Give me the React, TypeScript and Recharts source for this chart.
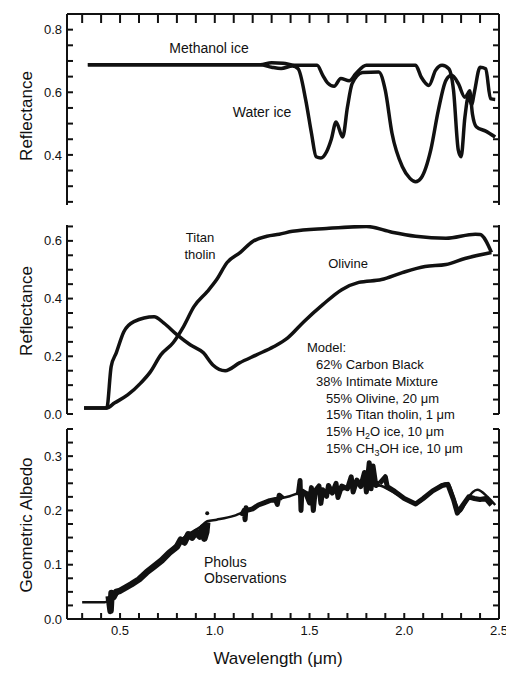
import React from "react";
import { LineChart, Line, XAxis, YAxis } from "recharts";

const FONT = '"Liberation Sans", Arial, Helvetica, sans-serif';
const INK = "#111";

// shared wavelength axis (um)
const X_DOMAIN = [0.22, 2.5];
const X_TICKS = [0.3, 0.4, 0.5, 0.6, 0.7, 0.8, 0.9, 1.0, 1.1, 1.2, 1.3, 1.4, 1.5, 1.6, 1.7, 1.8, 1.9, 2.0, 2.1, 2.2, 2.3, 2.4, 2.5];
const X_LABELED = [0.5, 1.0, 1.5, 2.0, 2.5];

// panel 1: ices
const ICE_DOMAIN = [0.24, 0.85];
const ICE_TICKS = [0.25, 0.3, 0.35, 0.4, 0.45, 0.5, 0.55, 0.6, 0.65, 0.7, 0.75, 0.8, 0.85];
const ICE_LABELED = [0.4, 0.6, 0.8];
const WATER_WL = [0.33, 0.6, 1.0, 1.24, 1.3, 1.35, 1.41, 1.44, 1.48, 1.51, 1.535, 1.56, 1.59, 1.615, 1.64, 1.675, 1.7, 1.725, 1.78, 1.865, 1.9, 1.935, 1.99, 2.03, 2.06, 2.09, 2.14, 2.18, 2.22, 2.25, 2.285, 2.32, 2.335, 2.345, 2.36, 2.38, 2.43, 2.48];
const WATER_R = [0.688, 0.688, 0.688, 0.688, 0.68, 0.676, 0.684, 0.675, 0.575, 0.47, 0.394, 0.39, 0.41, 0.45, 0.505, 0.457, 0.552, 0.628, 0.663, 0.665, 0.606, 0.47, 0.362, 0.325, 0.314, 0.327, 0.416, 0.543, 0.638, 0.654, 0.628, 0.584, 0.595, 0.605, 0.53, 0.49, 0.476, 0.457];
const METH_WL = [0.33, 0.6, 1.0, 1.24, 1.3, 1.36, 1.42, 1.54, 1.57, 1.595, 1.63, 1.665, 1.71, 1.745, 1.8, 2.06, 2.09, 2.13, 2.165, 2.2, 2.235, 2.26, 2.285, 2.3, 2.32, 2.34, 2.355, 2.37, 2.4, 2.43, 2.455, 2.48];
const METH_R = [0.688, 0.688, 0.688, 0.688, 0.694, 0.693, 0.686, 0.686, 0.654, 0.63, 0.619, 0.644, 0.637, 0.66, 0.686, 0.686, 0.648, 0.622, 0.67, 0.686, 0.675, 0.606, 0.416, 0.394, 0.52, 0.59, 0.56, 0.6, 0.68, 0.675, 0.58, 0.577];

// panel 2: olivine and tholin
const MIN_DOMAIN = [0, 0.655];
const MIN_TICKS = [0, 0.05, 0.1, 0.15, 0.2, 0.25, 0.3, 0.35, 0.4, 0.45, 0.5, 0.55, 0.6, 0.65];
const MIN_LABELED = [0, 0.2, 0.4, 0.6];
const OLV_WL = [0.31, 0.43, 0.453, 0.48, 0.52, 0.573, 0.68, 0.73, 0.8, 0.87, 0.94, 0.99, 1.055, 1.13, 1.22, 1.31, 1.385, 1.47, 1.57, 1.67, 1.76, 1.88, 1.99, 2.11, 2.22, 2.32, 2.46];
const OLV_R = [0.021, 0.021, 0.164, 0.212, 0.285, 0.32, 0.337, 0.316, 0.275, 0.24, 0.212, 0.17, 0.15, 0.177, 0.205, 0.233, 0.264, 0.32, 0.379, 0.431, 0.456, 0.466, 0.49, 0.511, 0.518, 0.539, 0.56];
const THO_WL = [0.31, 0.43, 0.47, 0.54, 0.61, 0.66, 0.715, 0.78, 0.835, 0.89, 0.96, 1.01, 1.065, 1.135, 1.2, 1.275, 1.34, 1.41, 1.59, 1.8, 1.935, 2.06, 2.22, 2.375, 2.4, 2.46];
const THO_R = [0.021, 0.021, 0.038, 0.066, 0.108, 0.146, 0.205, 0.247, 0.303, 0.372, 0.424, 0.466, 0.525, 0.56, 0.598, 0.616, 0.623, 0.633, 0.643, 0.65, 0.63, 0.616, 0.609, 0.623, 0.622, 0.56];

// panel 3: Pholus albedo
const ALB_DOMAIN = [0, 0.35];
const ALB_TICKS = [0, 0.025, 0.05, 0.075, 0.1, 0.125, 0.15, 0.175, 0.2, 0.225, 0.25, 0.275, 0.3, 0.325, 0.35];
const ALB_LABELED = [0, 0.1, 0.2, 0.3];
const MODEL_WL = [0.3, 0.42, 0.45, 0.5, 0.573, 0.645, 0.715, 0.78, 0.855, 0.925, 0.96, 1.01, 1.1, 1.17, 1.275, 1.395, 1.45, 1.62, 1.8, 1.88, 1.97, 2.06, 2.145, 2.2, 2.23, 2.27, 2.295, 2.33, 2.385, 2.44, 2.48];
const MODEL_A = [0.031, 0.031, 0.036, 0.05, 0.066, 0.087, 0.105, 0.131, 0.155, 0.17, 0.18, 0.183, 0.19, 0.2, 0.216, 0.226, 0.232, 0.234, 0.25, 0.245, 0.228, 0.213, 0.234, 0.248, 0.25, 0.215, 0.198, 0.22, 0.238, 0.225, 0.21];
const OBS_VIS_WL = [0.44, 0.45, 0.455, 0.465, 0.48, 0.5, 0.53, 0.56, 0.6, 0.64, 0.68, 0.72, 0.76, 0.8, 0.82, 0.84, 0.86, 0.88, 0.9, 0.92, 0.935, 0.945, 0.955, 0.96];
const OBS_VIS_A = [0.042, 0.015, 0.048, 0.04, 0.05, 0.052, 0.058, 0.064, 0.073, 0.086, 0.097, 0.108, 0.122, 0.133, 0.146, 0.141, 0.156, 0.15, 0.16, 0.152, 0.168, 0.148, 0.16, 0.178];
const OBS_J_WL = [1.14, 1.155, 1.16, 1.165, 1.17, 1.2, 1.23, 1.26, 1.29, 1.32, 1.33, 1.34, 1.36];
const OBS_J_A = [0.19, 0.2, 0.183, 0.205, 0.2, 0.203, 0.21, 0.214, 0.218, 0.22, 0.211, 0.228, 0.222];
const OBS_H_WL = [1.44, 1.45, 1.455, 1.46, 1.48, 1.5, 1.51, 1.52, 1.53, 1.55, 1.56, 1.57, 1.59, 1.6, 1.62, 1.64, 1.65, 1.67, 1.7, 1.72, 1.73, 1.75, 1.77, 1.79, 1.8, 1.815, 1.825, 1.835, 1.85, 1.87];
const OBS_H_A = [0.228, 0.255, 0.2, 0.236, 0.232, 0.214, 0.242, 0.2, 0.236, 0.245, 0.213, 0.238, 0.226, 0.246, 0.232, 0.25, 0.224, 0.245, 0.24, 0.262, 0.234, 0.256, 0.244, 0.27, 0.234, 0.288, 0.24, 0.282, 0.246, 0.25];
const OBS_K_WL = [1.87, 1.9, 1.91, 1.95, 2.0, 2.06, 2.1, 2.15, 2.2, 2.23, 2.26, 2.28, 2.31, 2.34, 2.37, 2.4, 2.43, 2.46];
const OBS_K_A = [0.25, 0.262, 0.244, 0.235, 0.222, 0.212, 0.222, 0.236, 0.246, 0.248, 0.22, 0.195, 0.21, 0.225, 0.222, 0.22, 0.222, 0.21];
const STRAY_WL = [0.96];
const STRAY_A = [0.195];

const zip = (xs: number[], ys: number[]) => xs.map((x, i) => ({ x, y: ys[i] }));
const has = (list: number[], v: number) => list.some((l) => Math.abs(l - v) < 1e-6);
const labelOnly = (labeled: number[]) => (v: number) => (has(labeled, Number(v)) ? Number(v).toFixed(1) : "");

const PLOT_LEFT = 67;

const tickInk = { stroke: INK, strokeWidth: 2 };
const axisLine = { stroke: INK, strokeWidth: 2 };
const tickText = { fontSize: 13, fontFamily: FONT, fill: INK };

// every axis points its ticks inwards (negative tickSize); unlabelled ticks get an empty label
function yAxes(domain: number[], ticks: number[], labeled: number[]) {
  const common = { type: "number" as const, domain, ticks, interval: 0, allowDataOverflow: true, tickLine: tickInk, axisLine };
  return [
    <YAxis key="l" yAxisId="l" {...common} width={PLOT_LEFT} tickSize={-6} tickMargin={11} tick={tickText} tickFormatter={labelOnly(labeled)} />,
    <YAxis key="r" yAxisId="r" orientation="right" {...common} width={1} tickSize={-6} tickMargin={0} tick={tickText} tickFormatter={() => ""} />,
  ];
}

function IcePanel() {
  return (
    <LineChart width={506} height={210} margin={{ top: 13, right: 6, bottom: 5, left: 0 }}>
      <XAxis type="number" dataKey="x" domain={X_DOMAIN} ticks={X_TICKS} interval={0} allowDataOverflow orientation="top"
        height={1} tickSize={-9} tickMargin={0} tickLine={tickInk} axisLine={axisLine} tick={tickText} tickFormatter={() => ""} />
      {yAxes(ICE_DOMAIN, ICE_TICKS, ICE_LABELED)}
      <Line yAxisId="l" data={zip(METH_WL, METH_R)} dataKey="y" type="monotone" stroke={INK} strokeWidth={3.5} dot={false} isAnimationActive={false} />
      <Line yAxisId="l" data={zip(WATER_WL, WATER_R)} dataKey="y" type="monotone" stroke={INK} strokeWidth={3.5} dot={false} isAnimationActive={false} />
    </LineChart>
  );
}

function MineralPanel() {
  return (
    <LineChart width={506} height={215} margin={{ top: 10, right: 6, bottom: 16, left: 0 }}>
      <XAxis type="number" dataKey="x" domain={X_DOMAIN} allowDataOverflow hide />
      {yAxes(MIN_DOMAIN, MIN_TICKS, MIN_LABELED)}
      <Line yAxisId="l" data={zip(OLV_WL, OLV_R)} dataKey="y" type="monotone" stroke={INK} strokeWidth={3.5} dot={false} isAnimationActive={false} />
      <Line yAxisId="l" data={zip(THO_WL, THO_R)} dataKey="y" type="monotone" stroke={INK} strokeWidth={3.5} dot={false} isAnimationActive={false} />
    </LineChart>
  );
}

function AlbedoPanel() {
  const obs = [zip(OBS_VIS_WL, OBS_VIS_A), zip(OBS_J_WL, OBS_J_A), zip(OBS_H_WL, OBS_H_A), zip(OBS_K_WL, OBS_K_A)];
  return (
    <LineChart width={506} height={253} margin={{ top: 9, right: 6, bottom: 53, left: 0 }}>
      <XAxis type="number" dataKey="x" domain={X_DOMAIN} ticks={X_TICKS} interval={0} allowDataOverflow
        height={1} tickSize={-6} tickMargin={13} tickLine={tickInk} axisLine={axisLine} tick={tickText} tickFormatter={labelOnly(X_LABELED)} />
      {yAxes(ALB_DOMAIN, ALB_TICKS, ALB_LABELED)}
      <Line yAxisId="l" data={zip(MODEL_WL, MODEL_A)} dataKey="y" type="monotone" stroke={INK} strokeWidth={2.5} dot={false} isAnimationActive={false} />
      {obs.map((seg, i) => (
        <Line key={i} yAxisId="l" data={seg} dataKey="y" type="linear" stroke={INK} strokeWidth={i === 0 ? 6.5 : 5} strokeLinejoin="round" dot={false} isAnimationActive={false} />
      ))}
      <Line yAxisId="l" data={zip(STRAY_WL, STRAY_A)} dataKey="y" stroke="none" dot={{ r: 2, fill: INK, stroke: "none" }} isAnimationActive={false} />
    </LineChart>
  );
}

export default function App() {
  const t = { fontFamily: FONT, fill: INK };
  return (
    <div style={{ position: "absolute", left: 0, top: 0, width: 506, height: 673, background: "#fff" }}>
      <div style={{ position: "absolute", left: 0, top: 0 }}><IcePanel /></div>
      <div style={{ position: "absolute", left: 0, top: 215 }}><MineralPanel /></div>
      <div style={{ position: "absolute", left: 0, top: 420 }}><AlbedoPanel /></div>
      <svg width={506} height={673} style={{ position: "absolute", left: 0, top: 0, pointerEvents: "none" }}>
        <g {...t} fontSize={17} textAnchor="middle">
          <text x={26} y={116} dominantBaseline="central" transform="rotate(-90 26 116)">Reflectance</text>
          <text x={26} y={311} dominantBaseline="central" transform="rotate(-90 26 311)">Reflectance</text>
          <text x={26} y={525} dominantBaseline="central" transform="rotate(-90 26 525)">Geometric Albedo</text>
          <text x={278} y={664}>Wavelength (μm)</text>
        </g>
        <g {...t} fontSize={14}>
          <text x={209} y={53} textAnchor="middle">Methanol ice</text>
          <text x={262} y={117} textAnchor="middle">Water ice</text>
          <text x={204} y={567}>Pholus</text>
          <text x={204} y={583}>Observations</text>
        </g>
        <g {...t} fontSize={13}>
          <text x={200} y={242} textAnchor="middle">Titan</text>
          <text x={200} y={259} textAnchor="middle">tholin</text>
          <text x={348} y={268} textAnchor="middle">Olivine</text>
          <text x={307} y={352}>Model:</text>
          <text x={316} y={369}>62% Carbon Black</text>
          <text x={316} y={386}>38% Intimate Mixture</text>
          <text x={326} y={403}>55% Olivine, 20 μm</text>
          <text x={326} y={419}>15% Titan tholin, 1 μm</text>
          <text x={326} y={436}>15% H<tspan dy={3} fontSize={9}>2</tspan><tspan dy={-3}>O ice, 10 μm</tspan></text>
          <text x={326} y={453}>15% CH<tspan dy={3} fontSize={9}>3</tspan><tspan dy={-3}>OH ice, 10 μm</tspan></text>
        </g>
      </svg>
    </div>
  );
}
